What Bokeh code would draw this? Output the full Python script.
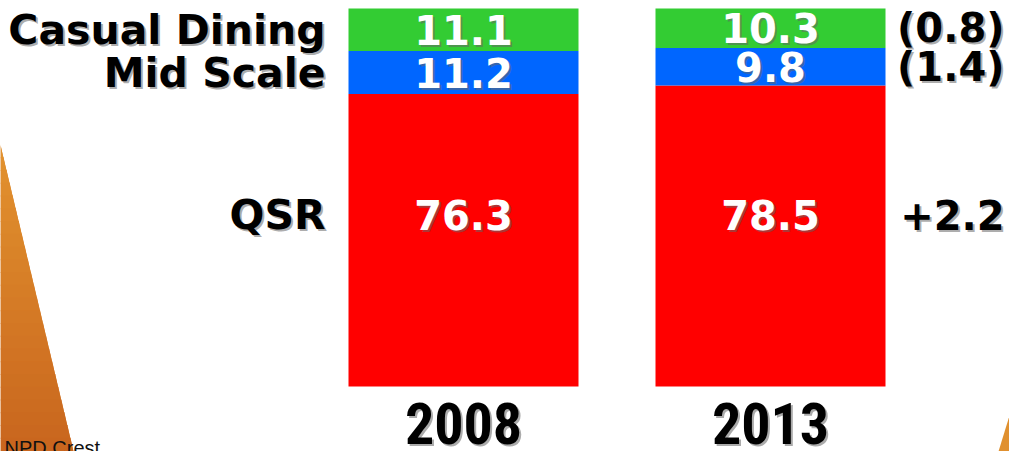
from bokeh.plotting import figure
from bokeh.models import ColumnDataSource, Range1d
from bokeh.core.properties import value
from bokeh.embed import file_html
from bokeh.resources import INLINE

# ---------------- data ----------------
years = ["2008", "2013"]
segments = ["QSR", "Mid Scale", "Casual Dining"]
qsr = [76.3, 78.5]
mid_scale = [11.2, 9.8]
casual_dining = [11.1, 10.3]
seg_colors = ["#FF0000", "#0066FF", "#33CC33"]
source_note = "NPD Crest"

# ---------------- geometry (screen pixels) ----------------
W, H = 1009, 451
total = max(a + b + c for a, b, c in zip(qsr, mid_scale, casual_dining))
ppu = 378.0 / total            # pixels per data unit (vertical)
dx = 307.0                     # pixels between bar centres
cx0 = 463.0                    # canvas x of first bar centre
top_px = 8.0
x_start = -cx0 / dx
x_end = (W - cx0) / dx
y_end = total + top_px / ppu
y_start = y_end - H / ppu

def X(px):
    return x_start + px / dx

def Y(py):
    return y_end - py / ppu

p = figure(width=W, height=H, output_backend="svg", toolbar_location=None,
           x_range=Range1d(x_start, x_end), y_range=Range1d(y_start, y_end),
           min_border=0, outline_line_color=None, background_fill_color="white")
p.xaxis.visible = False
p.yaxis.visible = False
p.grid.visible = False

# ---------------- wood decorations (banded gradient) ----------------
def lerp(c1, c2, t):
    a = [int(c1[i:i + 2], 16) for i in (1, 3, 5)]
    b = [int(c2[i:i + 2], 16) for i in (1, 3, 5)]
    return "#" + "".join(f"{round(a[k] + (b[k] - a[k]) * t):02x}" for k in range(3))

top_y, bot_y, bot_x = 145.0, 451.0, 73.0
c_top, c_bot = "#E2922E", "#C9661E"
p.patch([X(0), X(bot_x), X(0)], [Y(top_y), Y(bot_y), Y(bot_y)],
        color=lerp(c_top, c_bot, 0.5), line_color=None)
n = 24
for i in range(n):
    y0 = top_y + (bot_y - top_y) * i / n
    y1 = top_y + (bot_y - top_y) * (i + 1) / n
    xa = bot_x * (y0 - top_y) / (bot_y - top_y)
    xb = bot_x * (y1 - top_y) / (bot_y - top_y)
    col = lerp(c_top, c_bot, i / (n - 1))
    p.patch([X(0), X(xa), X(xb), X(0)], [Y(y0 - 1), Y(y0 - 1), Y(y1), Y(y1)],
            color=col, line_color=None)
p.patch([X(1009), X(998), X(1009)], [Y(415), Y(451), Y(451)], color="#E0902F", line_color=None)

# ---------------- stacked bars ----------------
xs = list(range(len(years)))
src = ColumnDataSource(dict(x=xs, qsr=qsr, mid=mid_scale, casual=casual_dining))
p.vbar_stack(["qsr", "mid", "casual"], x="x", width=230 / dx, color=seg_colors,
             line_color=None, source=src)

# centres of segments
mid_c = [q + m / 2 for q, m in zip(qsr, mid_scale)]
cas_c = [q + m + c / 2 for q, m, c in zip(qsr, mid_scale, casual_dining)]
qsr_row = qsr[0] / 2
QSR_OFF = -25

heavy = value("DejaVu Sans")

def shadow_text(x, y, text, size, color, align="center", baseline="middle",
                font=heavy, yoff=0, shadow="#666666"):
    p.text(x=x, y=y, text=text, text_align=align, text_baseline=baseline,
           text_font=font, text_font_style="bold", text_font_size=size,
           text_color=shadow, text_alpha=0.55, x_offset=2, y_offset=yoff + 2)
    p.text(x=x, y=y, text=text, text_align=align, text_baseline=baseline,
           text_font=font, text_font_style="bold", text_font_size=size,
           text_color=color, y_offset=yoff)

# values inside bars
fmt = lambda v: f"{v:.1f}"
shadow_text(xs, cas_c, [fmt(v) for v in casual_dining], "40px", "white")
shadow_text(xs, mid_c, [fmt(v) for v in mid_scale], "40px", "white")
shadow_text(xs, [qsr_row] * 2, [fmt(v) for v in qsr], "40px", "white", yoff=QSR_OFF)

# left category labels
shadow_text([X(325)], [cas_c[0]], ["Casual Dining"], "41px", "black", align="right")
shadow_text([X(325)], [mid_c[0]], ["Mid Scale"], "41px", "black", align="right")
shadow_text([X(325)], [qsr_row], ["QSR"], "41px", "black", align="right", yoff=QSR_OFF)

# right change labels
def chg(a, b):
    d = round(b - a, 1)
    return f"({abs(d):.1f})" if d < 0 else f"+{d:.1f}"

shadow_text([X(1004)], [cas_c[1]], [chg(casual_dining[0], casual_dining[1])], "40px", "black", align="right")
shadow_text([X(1004)], [mid_c[1]], [chg(mid_scale[0], mid_scale[1])], "40px", "black", align="right")
shadow_text([X(1004)], [qsr_row], [chg(qsr[0], qsr[1])], "40px", "black", align="right", yoff=QSR_OFF)

# year labels
shadow_text(xs, [Y(402)] * 2, years, "58px", "black", baseline="top",
            font=value("Roboto Condensed, DejaVu Sans Condensed"))

# source note
p.text(x=[X(4)], y=[Y(436)], text=[source_note], text_align="left", text_baseline="top",
       text_font=value("Liberation Sans"), text_font_size="20px", text_color="#111111")

open("out.html", "w").write(file_html(p, INLINE))
